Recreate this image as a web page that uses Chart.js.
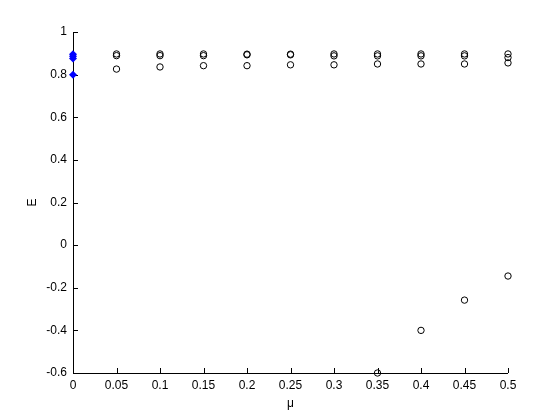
<!DOCTYPE html>
<html>
<head>
<meta charset="utf-8">
<script src="https://cdn.jsdelivr.net/npm/chart.js@4"></script>
<style>
  html, body { margin: 0; padding: 0; background: #fff; }
  #wrap { width: 560px; height: 420px; }
</style>
</head>
<body>
<div id="wrap"><canvas id="c" width="560" height="420"></canvas></div>
<script>
// mu values for the open-circle branches
const muValues = [0.05, 0.1, 0.15, 0.2, 0.25, 0.3, 0.35, 0.4, 0.45, 0.5];
const upperTop = [0.897, 0.897, 0.897, 0.896, 0.896, 0.897, 0.897, 0.897, 0.897, 0.897];
const upperMid = [0.889, 0.889, 0.889, 0.893, 0.893, 0.888, 0.888, 0.888, 0.888, 0.880];
const lowerE = [0.826, 0.836, 0.842, 0.842, 0.846, 0.846, 0.850, 0.850, 0.850, 0.855];

// descending branch
const muLow = [0.35, 0.4, 0.45, 0.5];
const eLow = [-0.6, -0.4, -0.258, -0.145];

// starting points at mu = 0 (blue diamonds)
const muStart = [0, 0, 0, 0];
const eStart = [0.8, 0.876, 0.886, 0.896];

const xTicks = [0, 0.05, 0.1, 0.15, 0.2, 0.25, 0.3, 0.35, 0.4, 0.45, 0.5];
const yTicks = [-0.6, -0.4, -0.2, 0, 0.2, 0.4, 0.6, 0.8, 1];

const pts = (xs, ys) => xs.map((x, i) => ({ x: x, y: ys[i] }));

const circleStyle = {
  pointStyle: 'circle', pointRadius: 3.2, borderColor: '#000',
  backgroundColor: 'rgba(0,0,0,0)', borderWidth: 1, showLine: false, clip: false
};

const font = { family: 'Liberation Sans, Arial, sans-serif', size: 12 };

// matlab style axes with inward ticks, drawn under the markers
const inwardTicks = {
  id: 'inwardTicks',
  beforeDatasetsDraw(chart) {
    const ctx = chart.ctx, a = chart.chartArea;
    const xs = chart.scales.x, ys = chart.scales.y;
    ctx.save();
    ctx.strokeStyle = '#000';
    ctx.lineWidth = 1;
    ctx.beginPath();
    ctx.moveTo(a.left + 0.5, a.top);
    ctx.lineTo(a.left + 0.5, a.bottom + 0.5);
    ctx.lineTo(a.right, a.bottom + 0.5);
    xTicks.forEach(v => {
      const px = Math.round(xs.getPixelForValue(v)) + 0.5;
      ctx.moveTo(px, a.bottom);
      ctx.lineTo(px, a.bottom - 5);
    });
    yTicks.forEach(v => {
      const py = Math.round(ys.getPixelForValue(v)) + 0.5;
      ctx.moveTo(a.left, py);
      ctx.lineTo(a.left + 5, py);
    });
    ctx.stroke();
    ctx.restore();
  }
};

new Chart(document.getElementById('c'), {
  type: 'scatter',
  data: {
    datasets: [
      Object.assign({ data: pts(muValues, upperTop) }, circleStyle),
      Object.assign({ data: pts(muValues, upperMid) }, circleStyle),
      Object.assign({ data: pts(muValues, lowerE) }, circleStyle),
      Object.assign({ data: pts(muLow, eLow) }, circleStyle),
      {
        data: pts(muStart, eStart),
        pointStyle: 'rectRot', pointRadius: 4, borderWidth: 0, clip: false,
        backgroundColor: '#0000ff', borderColor: '#0000ff', showLine: false
      }
    ]
  },
  options: {
    responsive: false,
    animation: false,
    layout: { padding: { left: 0, right: 52, top: 32, bottom: 0 } },
    plugins: { legend: { display: false }, tooltip: { enabled: false } },
    scales: {
      x: {
        type: 'linear', min: 0, max: 0.5,
        afterFit: s => { s.height = 47; },
        afterBuildTicks: s => { s.ticks = xTicks.map(v => ({ value: v })); },
        border: { display: false },
        grid: { display: false, drawTicks: false },
        ticks: { color: '#000', font: font, padding: 5, maxRotation: 0, autoSkip: false,
          callback: v => String(parseFloat(v.toFixed(2))) },
        title: { display: true, text: 'μ', color: '#000', font: font, padding: { top: 0, bottom: 9 } }
      },
      y: {
        type: 'linear', min: -0.6, max: 1,
        afterFit: s => { s.width = 73; },
        afterBuildTicks: s => { s.ticks = yTicks.map(v => ({ value: v })); },
        border: { display: false },
        grid: { display: false, drawTicks: false },
        ticks: { color: '#000', font: font, padding: 6, autoSkip: false,
          callback: v => String(parseFloat(v.toFixed(1))) },
        title: { display: true, text: 'E', color: '#000', font: font, padding: { top: 25, bottom: 0 } }
      }
    }
  },
  plugins: [inwardTicks]
});
</script>
</body>
</html>
